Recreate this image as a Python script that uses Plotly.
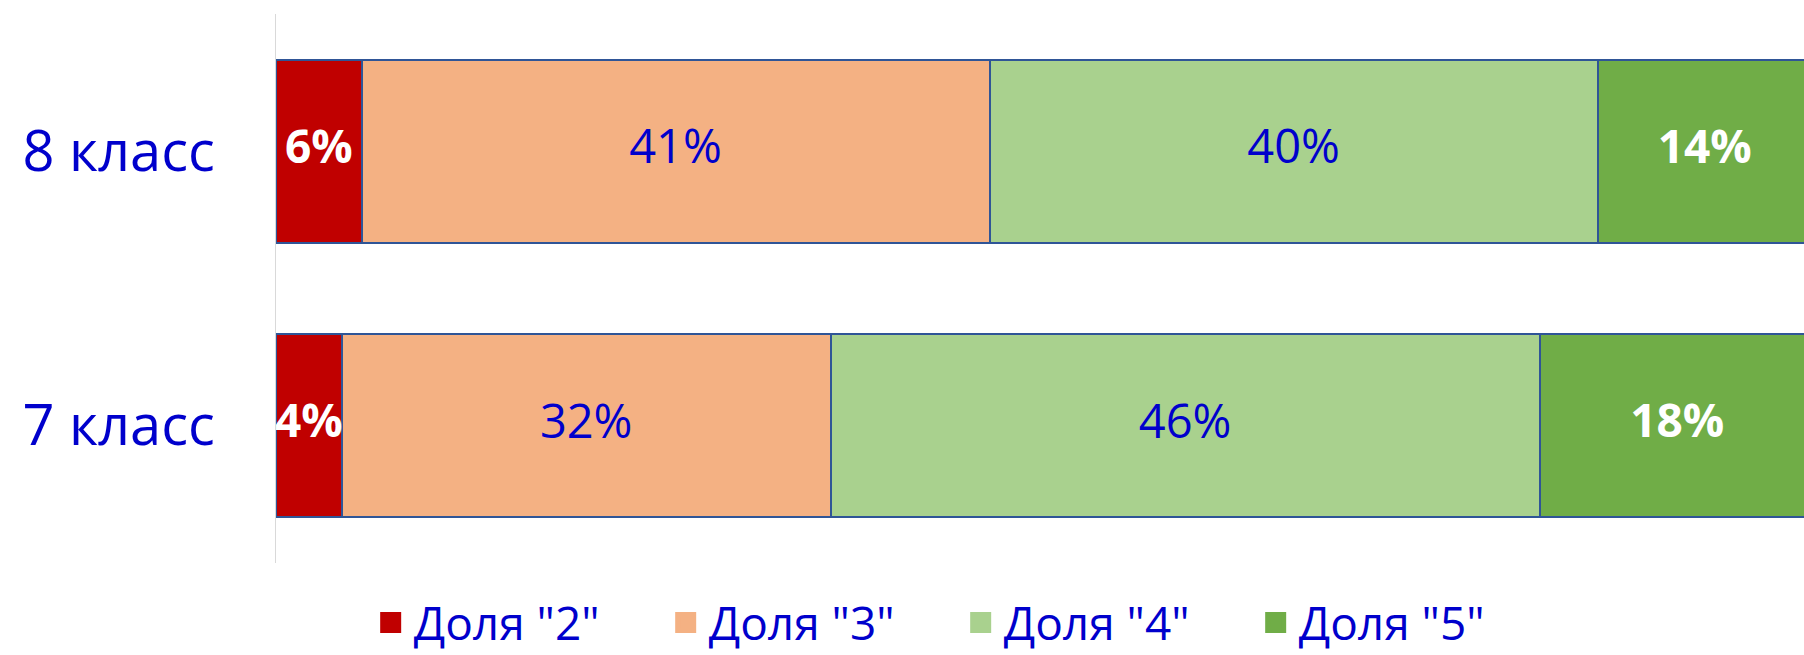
import numpy as np
import plotly.graph_objects as go

# ---- data ----
categories = ["7 класс", "8 класс"]
series_names = ['Доля "2"', 'Доля "3"', 'Доля "4"', 'Доля "5"']
share_2 = [4.3, 5.6]
share_3 = [32.0, 41.1]
share_4 = [46.4, 39.8]
share_5 = [18.0, 14.0]

# ---- styles ----
bar_colors = ["#C00000", "#F4B183", "#A9D18E", "#70AD47"]
label_colors = ["#FFFFFF", "#0000CC", "#0000CC", "#FFFFFF"]
label_weights = ["bold", "normal", "normal", "bold"]
label_sizes = [46, 47, 47, 46]
outline = "#2F5597"
blue = "#0000CC"
font_family = "Open Sans, Noto Sans, DejaVu Sans, sans-serif"

series = [share_2, share_3, share_4, share_5]

fig = go.Figure()

# stacked bars
for name, vals, col in zip(series_names, series, bar_colors):
    fig.add_trace(go.Bar(
        y=categories, x=vals, orientation="h", name=name,
        marker=dict(color=col, line=dict(color=outline, width=2)),
        showlegend=False, hoverinfo="skip",
    ))

# data labels (drawn above all bars)
base = np.zeros(len(categories))
for name, vals, lc, lw, ls in zip(series_names, series, label_colors, label_weights, label_sizes):
    v = np.array(vals, dtype=float)
    mid = base + v / 2
    fig.add_trace(go.Scatter(
        y=categories, x=mid, mode="text",
        text=[f"{round(x):.0f}%" for x in v],
        textposition="middle center",
        textfont=dict(family=font_family, size=ls, color=lc, weight=lw),
        showlegend=False, hoverinfo="skip",
    ))
    base = base + v

# legend proxies
for name, col in zip(series_names, bar_colors):
    fig.add_trace(go.Scatter(
        x=[None], y=[None], mode="markers", name=name,
        marker=dict(symbol="square", size=16, color=col,
                    line=dict(color=col, width=5)),
        showlegend=True,
    ))

fig.update_layout(
    width=1804, height=655,
    margin=dict(l=276, r=0, t=14, b=92, autoexpand=False),
    paper_bgcolor="white", plot_bgcolor="white",
    barmode="stack", bargap=0.333,
    font=dict(family=font_family, color=blue),
    xaxis=dict(range=[0, 100], visible=False, fixedrange=True),
    yaxis=dict(
        categoryorder="array", categoryarray=categories,
        showline=True, linecolor="#D9D9D9", linewidth=1,
        showgrid=False, zeroline=False, ticks="",
        tickfont=dict(family=font_family, size=56, color=blue),
        ticklabelstandoff=49, fixedrange=True, automargin=False,
    ),
    legend=dict(
        orientation="h", xanchor="left", yanchor="top",
        x=0.060, y=-0.042, traceorder="normal",
        font=dict(family=font_family, size=46, color=blue),
        entrywidth=244, itemwidth=36,
        bgcolor="rgba(0,0,0,0)",
    ),
    showlegend=True,
)

fig.write_html(
    "out.html",
    config={"displayModeBar": False},
    post_script="document.body.style.margin='0';document.body.style.overflow='hidden';",
)
